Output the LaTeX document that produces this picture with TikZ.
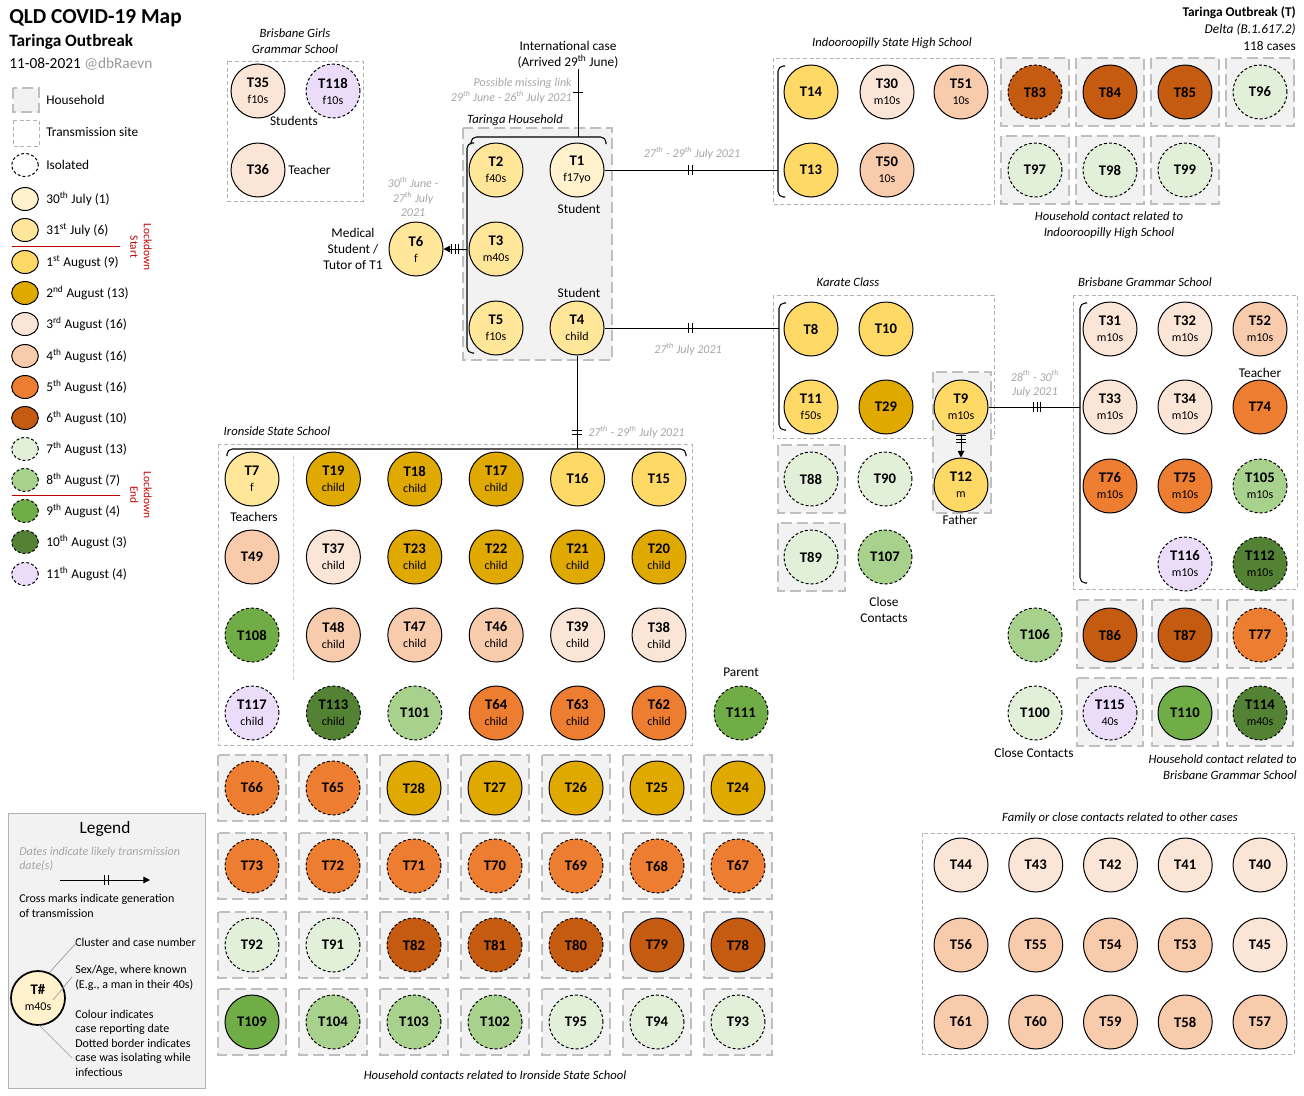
\documentclass[tikz,border=0pt]{standalone}
\usepackage{fontspec}
\setmainfont{Carlito}
\usetikzlibrary{arrows.meta}

\definecolor{jul30}{HTML}{FFF2CC}
\definecolor{jul31}{HTML}{FFE699}
\definecolor{aug01}{HTML}{FFD966}
\definecolor{aug02}{HTML}{DFA900}
\definecolor{aug03}{HTML}{FBE5D6}
\definecolor{aug04}{HTML}{F8CBAD}
\definecolor{aug05}{HTML}{ED7D31}
\definecolor{aug06}{HTML}{C55A11}
\definecolor{aug07}{HTML}{E2F0D9}
\definecolor{aug08}{HTML}{A9D18E}
\definecolor{aug09}{HTML}{70AD47}
\definecolor{aug10}{HTML}{548235}
\definecolor{aug11}{HTML}{EBDDFA}
\definecolor{lockred}{HTML}{C00000}

\def\nosub{-}
\newcommand{\caselab}[2]{\edef\tmpsub{#2}\ifx\tmpsub\nosub #1\else #1\\{\mdseries\fontsize{9}{10}\selectfont #2}\fi}

\tikzset{
  case/.style={circle, draw=black, line width=0.75pt, minimum size=40.5pt, inner sep=0pt, align=center, font=\fontsize{11}{12}\selectfont\bfseries},
  iso/.style={dash pattern=on 2.2pt off 1.6pt},
  hh/.style={draw=black!25, fill=black!5, line width=2pt, dash pattern=on 8pt off 4pt},
  site/.style={draw=black!30, line width=0.6pt, dash pattern=on 3pt off 2pt},
  divider/.style={draw=black!20, line width=0.5pt, dash pattern=on 3pt off 2pt},
  brkt/.style={line width=0.8pt, rounded corners=4pt},
  link/.style={line width=0.75pt},
  arr/.style={-{Triangle[length=5pt,width=5pt]}},
  grp/.style={font=\fontsize{9.5}{12}\selectfont\itshape, align=center, inner sep=0pt},
  when/.style={text=black!35, font=\fontsize{9}{11}\selectfont\itshape, align=center, inner sep=0pt},
  note/.style={font=\fontsize{10}{12}\selectfont, align=center, inner sep=0pt},
  key/.style={anchor=west, font=\fontsize{10}{12}\selectfont, inner sep=0pt},
  small/.style={anchor=west, font=\fontsize{9}{10.9}\selectfont, align=left, inner sep=0pt},
  xtick1/.pic={\draw[line width=0.75pt] (0,-5) -- (0,5);},
  xtick2/.pic={\draw[line width=0.75pt] (-2,-5) -- (-2,5) (2,-5) -- (2,5);},
  xtick3/.pic={\draw[line width=0.75pt] (-3.5,-5) -- (-3.5,5) (0,-5) -- (0,5) (3.5,-5) -- (3.5,5);},
}

\begin{document}
\begin{tikzpicture}[x=0.75pt,y=-0.75pt]
\useasboundingbox (0,0) rectangle (1304,1096);

% title
\node[anchor=west, inner sep=0pt, font=\fontsize{16}{18}\selectfont\bfseries] (title) at (9,18) {QLD COVID-19 Map};
\node[anchor=west, inner sep=0pt, font=\fontsize{13}{15}\selectfont\bfseries] (outbreak) at (9,42) {Taringa Outbreak};
\node[anchor=west, inner sep=0pt, font=\fontsize{11.5}{13}\selectfont] (date) at (9,64) {11-08-2021 \textcolor{black!40}{@dbRaevn}};
\node[anchor=north east, align=right, inner sep=0pt, font=\fontsize{10}{12.75}\selectfont] (variant) at (1296,6) {\textbf{Taringa Outbreak (T)}\\\textit{Delta (B.1.617.2)}\\118 cases};

% key column
\draw[hh] (13,88) rectangle (39,112);
\node[key] at (46,100) {Household};
\draw[site] (13,120) rectangle (39,146);
\node[key] at (46,132) {Transmission site};
\draw[line width=0.75pt, iso] (25,165) ellipse (10pt and 8.6pt);
\node[key] at (46,165) {Isolated};
\foreach \yy/\col/\st/\txt in {
  199/jul30/solid/{30\textsuperscript{th} July (1)},
  230/jul31/solid/{31\textsuperscript{st} July (6)},
  262/aug01/solid/{1\textsuperscript{st} August (9)},
  293/aug02/solid/{2\textsuperscript{nd} August (13)},
  324/aug03/solid/{3\textsuperscript{rd} August (16)},
  356/aug04/solid/{4\textsuperscript{th} August (16)},
  387/aug05/solid/{5\textsuperscript{th} August (16)},
  418/aug06/solid/{6\textsuperscript{th} August (10)},
  449/aug07/iso/{7\textsuperscript{th} August (13)},
  480/aug08/iso/{8\textsuperscript{th} August (7)},
  511/aug09/iso/{9\textsuperscript{th} August (4)},
  542/aug10/iso/{10\textsuperscript{th} August (3)},
  574/aug11/iso/{11\textsuperscript{th} August (4)}}
  {\draw[fill=\col, line width=0.75pt, \st] (25,\yy) ellipse (10pt and 8.6pt);
   \node[key] at (46,\yy) {\txt};}
\draw[lockred, line width=0.75pt] (12,246) -- (120,246);
\node[rotate=-90, text=lockred, font=\fontsize{8.5}{10}\selectfont, align=center] at (141,247) {Lockdown\\Start};
\draw[lockred, line width=0.75pt] (12,495) -- (120,495);
\node[rotate=-90, text=lockred, font=\fontsize{8.5}{10}\selectfont, align=center] at (141,495) {Lockdown\\End};

% Brisbane Girls Grammar School
\node[grp] at (295,41) {Brisbane Girls\\Grammar School};
\draw[site] (227,61) rectangle (363,201);
\node[case, fill=aug03] (T35) at (258,91) {\caselab{T35}{f10s}};
\node[case, fill=aug11, iso] (T118) at (333,91) {\caselab{T118}{f10s}};
\node[case, fill=aug03] (T36) at (258,170) {T36};
\node[note] at (294,121) {Students};
\node[note, anchor=west] at (288,170) {Teacher};

% Taringa household
\node[grp] at (515,120) {Taringa Household};
\draw[hh] (463,128) rectangle (612,360);
\draw[brkt] (471,144) -- (471,137) -- (606,137) -- (606,144);
\draw[brkt] (474,143) -- (467,143) -- (467,353) -- (474,353);
\node[case, fill=jul31] (T2) at (496,170) {\caselab{T2}{f40s}};
\node[case, fill=jul30] (T1) at (577,170) {\caselab{T1}{f17yo}};
\node[case, fill=jul31] (T3) at (496,249) {\caselab{T3}{m40s}};
\node[case, fill=jul31] (T5) at (496,328) {\caselab{T5}{f10s}};
\node[case, fill=jul31] (T4) at (577,328) {\caselab{T4}{child}};
\node[note] at (579,209) {Student};
\node[note] at (579,293) {Student};

% international case
\node[note] (intl) at (568,55) {International case\\(Arrived 29\textsuperscript{th} June)};
\coordinate (tarTop) at (578,137);
\draw[link] (tarTop |- intl.south) -- (tarTop);
\pic[rotate=90] at (578,92) {xtick1};
\node[when, anchor=east, align=right] at (572,91) {Possible missing link\\29\textsuperscript{th} June - 26\textsuperscript{th} July 2021};

% tutor
\node[case, fill=jul31] (T6) at (416,249) {\caselab{T6}{f}};
\coordinate (tarLeft) at (467,249);
\draw[link, arr] (tarLeft) -- (T6);
\pic at (455,249) {xtick3};
\node[note] at (353,249) {Medical\\Student /\\Tutor of T1};
\node[when] at (413,197) {30\textsuperscript{th} June -\\27\textsuperscript{th} July\\2021};

% Indooroopilly State High School
\node[grp] at (892,43) {Indooroopilly State High School};
\draw[site] (773,58) rectangle (994,204);
\draw[brkt] (785,66) -- (778,66) -- (778,197) -- (785,197);
\coordinate (ishs) at (778,170);
\draw[link] (T1) -- (ishs);
\pic at (690,170) {xtick2};
\node[when] at (692,153) {27\textsuperscript{th} - 29\textsuperscript{th} July 2021};
\node[case, fill=aug01] (T14) at (811,92) {T14};
\node[case, fill=aug03] (T30) at (887,92) {\caselab{T30}{m10s}};
\node[case, fill=aug04] (T51) at (961,92) {\caselab{T51}{10s}};
\node[case, fill=aug01] (T13) at (811,170) {T13};
\node[case, fill=aug04] (T50) at (887,170) {\caselab{T50}{10s}};
\foreach \nm/\xx/\yy/\col/\st in {T83/1035/92/aug06/iso, T84/1110/92/aug06/solid, T85/1185/92/aug06/solid, T96/1260/92/aug07/iso,
  T97/1035/170/aug07/iso, T98/1110/170/aug07/iso, T99/1185/170/aug07/iso}
  {\draw[hh] (\xx-34,\yy-34) rectangle (\xx+34,\yy+34);
   \node[case, fill=\col, \st] (\nm) at (\xx,\yy) {\nm};}
\node[grp] at (1109,225) {Household contact related to\\Indooroopilly High School};

% Karate class
\node[grp] at (848,282) {Karate Class};
\draw[site] (773,295) rectangle (994,438);
\draw[brkt] (786,303) -- (779,303) -- (779,430) -- (786,430);
\coordinate (karate) at (779,328);
\draw[link] (T4) -- (karate);
\pic at (690,328) {xtick2};
\node[when] at (688,349) {27\textsuperscript{th} July 2021};
\draw[hh] (933,372) rectangle (991,513);
\node[case, fill=aug01] (T8) at (811,329) {T8};
\node[case, fill=aug01] (T10) at (886,329) {T10};
\node[case, fill=aug01] (T11) at (811,407) {\caselab{T11}{f50s}};
\node[case, fill=aug02] (T29) at (886,407) {T29};
\node[case, fill=aug01] (T9) at (961,407) {\caselab{T9}{m10s}};
\node[case, fill=aug01] (T12) at (961,485) {\caselab{T12}{m}};
\draw[link, arr] (T9) -- (T12);
\pic[rotate=90] at (961,439) {xtick3};
\node[note] at (960,520) {Father};
\draw[hh] (778,445) rectangle (845,513);
\draw[hh] (778,523) rectangle (845,591);
\node[case, fill=aug07, iso] (T88) at (811,479) {T88};
\node[case, fill=aug07, iso] (T90) at (885,479) {T90};
\node[case, fill=aug07, iso] (T89) at (811,557) {T89};
\node[case, fill=aug08, iso] (T107) at (885,557) {T107};
\node[note] at (884,610) {Close\\Contacts};

% Brisbane Grammar School
\node[grp] at (1145,282) {Brisbane Grammar School};
\draw[site] (1073,295) rectangle (1297,589);
\draw[brkt] (1087,303) -- (1080,303) -- (1080,583) -- (1087,583);
\coordinate (bgs) at (1080,407);
\draw[link] (T9) -- (bgs);
\pic at (1037,407) {xtick3};
\node[when] at (1035,384) {28\textsuperscript{th} - 30\textsuperscript{th}\\July 2021};
\node[case, fill=aug03] (T31) at (1110,329) {\caselab{T31}{m10s}};
\node[case, fill=aug03] (T32) at (1185,329) {\caselab{T32}{m10s}};
\node[case, fill=aug04] (T52) at (1260,329) {\caselab{T52}{m10s}};
\node[case, fill=aug03] (T33) at (1110,407) {\caselab{T33}{m10s}};
\node[case, fill=aug03] (T34) at (1185,407) {\caselab{T34}{m10s}};
\node[case, fill=aug05] (T74) at (1260,407) {T74};
\node[note] at (1260,373) {Teacher};
\node[case, fill=aug05] (T76) at (1110,486) {\caselab{T76}{m10s}};
\node[case, fill=aug05] (T75) at (1185,486) {\caselab{T75}{m10s}};
\node[case, fill=aug08, iso] (T105) at (1260,486) {\caselab{T105}{m10s}};
\node[case, fill=aug11, iso] (T116) at (1185,564) {\caselab{T116}{m10s}};
\node[case, fill=aug10, iso] (T112) at (1260,564) {\caselab{T112}{m10s}};

% contacts of Brisbane Grammar School
\node[case, fill=aug08, iso] (T106) at (1035,635) {T106};
\node[case, fill=aug07, iso] (T100) at (1035,713) {T100};
\node[note] at (1034,753) {Close Contacts};
\foreach \nm/\xx/\yy/\col/\st/\ag in {T86/1110/635/aug06/solid/-, T87/1185/635/aug06/solid/-, T77/1260/635/aug05/iso/-,
  T115/1110/713/aug11/iso/40s, T110/1185/713/aug09/solid/-, T114/1260/713/aug10/iso/m40s}
  {\draw[hh] (\xx-33,\yy-35) rectangle (\xx+33,\yy+33);
   \node[case, fill=\col, \st] (\nm) at (\xx,\yy) {\caselab{\nm}{\ag}};}
\node[grp, anchor=east, align=right] at (1297,767) {Household contact related to\\Brisbane Grammar School};

% Ironside State School
\node[grp] at (277,431) {Ironside State School};
\draw[site] (218,444) rectangle (692,745);
\draw[brkt] (227,456) -- (227,449) -- (686,449) -- (686,456);
\coordinate (iss) at (577,449);
\draw[link] (T4) -- (iss);
\pic[rotate=90] at (577,432) {xtick2};
\node[when, anchor=west] at (588,432) {27\textsuperscript{th} - 29\textsuperscript{th} July 2021};
\draw[divider] (293,456) -- (293,680);
\foreach \nm/\col/\st/\ag [count=\i] in {T7/jul31/solid/f, T19/aug02/solid/child, T18/aug02/solid/child, T17/aug02/solid/child, T16/aug01/solid/-, T15/aug01/solid/-}
  \node[case, fill=\col, \st] (\nm) at (252+81.4*\i-81.4,479) {\caselab{\nm}{\ag}};
\foreach \nm/\col/\st/\ag [count=\i] in {T49/aug04/solid/-, T37/aug03/solid/child, T23/aug02/solid/child, T22/aug02/solid/child, T21/aug02/solid/child, T20/aug02/solid/child}
  \node[case, fill=\col, \st] (\nm) at (252+81.4*\i-81.4,557) {\caselab{\nm}{\ag}};
\foreach \nm/\col/\st/\ag [count=\i] in {T108/aug09/iso/-, T48/aug04/solid/child, T47/aug04/solid/child, T46/aug04/solid/child, T39/aug03/solid/child, T38/aug03/solid/child}
  \node[case, fill=\col, \st] (\nm) at (252+81.4*\i-81.4,635) {\caselab{\nm}{\ag}};
\foreach \nm/\col/\st/\ag [count=\i] in {T117/aug11/iso/child, T113/aug10/iso/child, T101/aug08/iso/-, T64/aug05/solid/child, T63/aug05/solid/child, T62/aug05/solid/child}
  \node[case, fill=\col, \st] (\nm) at (252+81.4*\i-81.4,713) {\caselab{\nm}{\ag}};
\node[note] at (254,517) {Teachers};
\node[case, fill=aug09, iso] (T111) at (741,713) {T111};
\node[note] at (741,672) {Parent};

% households related to Ironside
\foreach \nm/\col/\st [count=\i] in {T66/aug05/iso, T65/aug05/iso, T28/aug02/solid, T27/aug02/solid, T26/aug02/solid, T25/aug02/solid, T24/aug02/solid}
  {\draw[hh] (252+81*\i-81-34,755) rectangle (252+81*\i-81+34,821);
   \node[case, fill=\col, \st] (\nm) at (252+81*\i-81,788) {\nm};}
\foreach \nm/\col/\st [count=\i] in {T73/aug05/iso, T72/aug05/iso, T71/aug05/iso, T70/aug05/iso, T69/aug05/iso, T68/aug05/iso, T67/aug05/iso}
  {\draw[hh] (252+81*\i-81-34,833) rectangle (252+81*\i-81+34,899);
   \node[case, fill=\col, \st] (\nm) at (252+81*\i-81,866) {\nm};}
\foreach \nm/\col/\st [count=\i] in {T92/aug07/iso, T91/aug07/iso, T82/aug06/iso, T81/aug06/iso, T80/aug06/iso, T79/aug06/solid, T78/aug06/solid}
  {\draw[hh] (252+81*\i-81-34,912) rectangle (252+81*\i-81+34,978);
   \node[case, fill=\col, \st] (\nm) at (252+81*\i-81,945) {\nm};}
\foreach \nm/\col/\st [count=\i] in {T109/aug09/solid, T104/aug08/iso, T103/aug08/iso, T102/aug08/iso, T95/aug07/iso, T94/aug07/iso, T93/aug07/iso}
  {\draw[hh] (252+81*\i-81-34,989) rectangle (252+81*\i-81+34,1055);
   \node[case, fill=\col, \st] (\nm) at (252+81*\i-81,1022) {\nm};}
\node[grp] at (495,1075) {Household contacts related to Ironside State School};

% family or close contacts
\node[grp] at (1120,818) {Family or close contacts related to other cases};
\draw[site] (922,833) rectangle (1294,1054);
\foreach \nm/\col [count=\i] in {T44/aug03, T43/aug03, T42/aug03, T41/aug03, T40/aug03}
  \node[case, fill=\col] (\nm) at (961+74.75*\i-74.75,865) {\nm};
\foreach \nm/\col [count=\i] in {T56/aug04, T55/aug04, T54/aug04, T53/aug04, T45/aug03}
  \node[case, fill=\col] (\nm) at (961+74.75*\i-74.75,945) {\nm};
\foreach \nm/\col [count=\i] in {T61/aug04, T60/aug04, T59/aug04, T58/aug04, T57/aug04}
  \node[case, fill=\col] (\nm) at (961+74.75*\i-74.75,1022) {\nm};

% legend box
\draw[draw=black!30, fill=black!5, line width=0.6pt] (8,813) rectangle (205,1088);
\node[font=\fontsize{13}{15}\selectfont] at (105,829) {Legend};
\node[small, text=black!35, font=\fontsize{9}{10.9}\selectfont\itshape] at (19,859) {Dates indicate likely transmission\\date(s)};
\coordinate (arrA) at (60,880);
\coordinate (arrB) at (150,880);
\draw[link, arr] (arrA) -- (arrB);
\pic at (106,880) {xtick2};
\node[small] at (19,906) {Cross marks indicate generation\\of transmission};
\node[case, fill=jul30, line width=1.3pt] (sample) at (38,998) {\caselab{T\#}{m40s}};
\node[small] (k1) at (75,942) {Cluster and case number};
\node[small] (k2) at (75,978) {Sex/Age, where known\\(E.g., a man in their 40s)};
\node[small] (k3) at (75,1043) {Colour indicates\\case reporting date\\Dotted border indicates\\case was isolating while\\infectious};
\draw[black!40, line width=0.5pt] (77,942) -- (49,973) (72,977) -- (53,1000) (39,1025) -- (72,1058);
\end{tikzpicture}
\end{document}
